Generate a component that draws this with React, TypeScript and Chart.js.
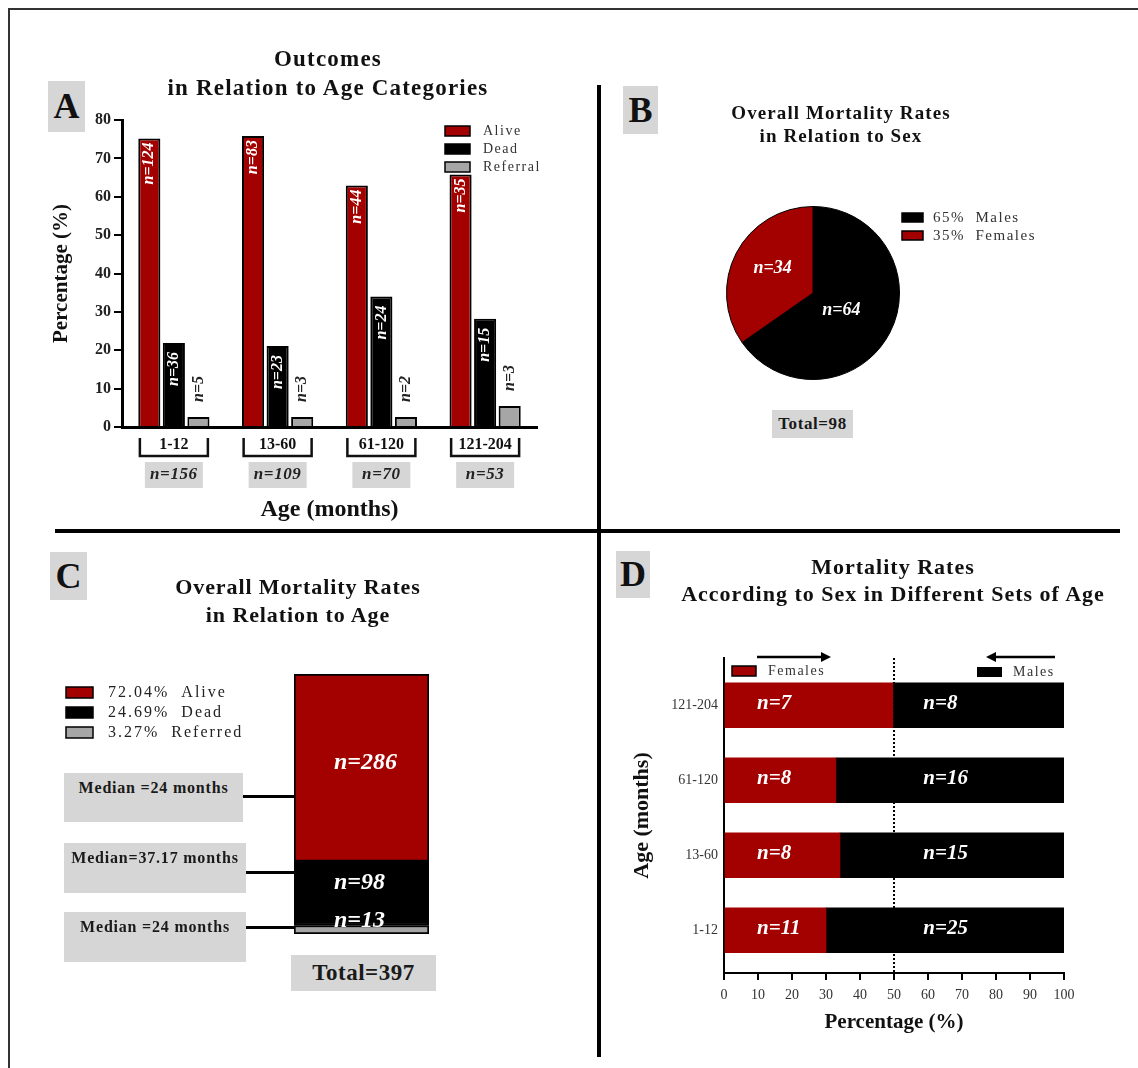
import React, { useEffect, useRef } from "react";
import { Chart, registerables } from "chart.js";

Chart.register(...registerables);

const SERIF = '"Liberation Serif", "Times New Roman", Times, serif';
const RED = "#a30000";
const BLACK = "#000000";
const GREY = "#a6a6a6";
const BOX_GREY = "#d6d6d6";

// ---------- Panel A: outcomes by age category ----------
const ageCategories = ["1-12", "13-60", "61-120", "121-204"];
const ageCategoryTotals = ["n=156", "n=109", "n=70", "n=53"];
const outcomeSeries = ["Alive", "Dead", "Referral"];
const alivePercent = [75.2, 75.8, 62.9, 65.8];
const deadPercent = [21.9, 21.1, 34.0, 28.2];
const referralPercent = [2.6, 2.6, 2.6, 5.5];
const aliveCounts = ["n=124", "n=83", "n=44", "n=35"];
const deadCounts = ["n=36", "n=23", "n=24", "n=15"];
const referralCounts = ["n=5", "n=3", "n=2", "n=3"];

// ---------- Panel B: mortality by sex ----------
const sexLabels = ["Males", "Females"];
const sexDeaths = [64, 34];
const sexShares = ["65%", "35%"];
const sexCountLabels = ["n=64", "n=34"];

// ---------- Panel C: overall outcomes ----------
const overallOutcomes = ["Alive", "Dead", "Referred"];
const overallCounts = [286, 98, 13];
const overallShares = ["72.04%", "24.69%", "3.27%"];
const overallCountLabels = ["n=286", "n=98", "n=13"];
const medianAges = ["Median =24 months", "Median=37.17 months", "Median =24 months"];
const overallTotal = "Total=397";

// ---------- Panel D: mortality by sex and age ----------
const ageSets = ["1-12", "13-60", "61-120", "121-204"];
const femalePercent = [30.0, 34.1, 32.9, 49.7];
const malePercent = [70.0, 65.9, 67.1, 50.3];
const femaleCounts = ["n=11", "n=8", "n=8", "n=7"];
const maleCounts = ["n=25", "n=15", "n=16", "n=8"];
const xTicksD = [0, 10, 20, 30, 40, 50, 60, 70, 80, 90, 100];

const font = (size: number, weight = "bold", style = "normal") =>
  `${style} ${weight} ${size}px ${SERIF}`;

const setSpacing = (ctx: any, px: number) => {
  ctx.letterSpacing = `${px}px`;
};

const plugA = {
  id: "annA",
  afterDatasetsDraw(chart: any) {
    const ctx = chart.ctx;
    const labelSets = [aliveCounts, deadCounts, referralCounts];
    chart.data.datasets.forEach((_ds: any, di: number) => {
      const meta = chart.getDatasetMeta(di);
      meta.data.forEach((bar: any, i: number) => {
        ctx.save();
        ctx.font = font(16, "bold", "italic");
        ctx.textBaseline = "middle";
        if (di < 2) {
          ctx.translate(bar.x, bar.y + (di === 0 ? 4 : 9));
          ctx.rotate(-Math.PI / 2);
          ctx.textAlign = "right";
          ctx.fillStyle = "#ffffff";
        } else {
          ctx.translate(bar.x, bar.y - 15);
          ctx.rotate(-Math.PI / 2);
          ctx.textAlign = "left";
          ctx.fillStyle = "#222";
        }
        ctx.fillText(labelSets[di][i], 0, 0);
        ctx.restore();
      });
    });
  },
  afterDraw(chart: any) {
    const ctx = chart.ctx;
    const xs = chart.scales.x;
    ctx.save();
    ageCategories.forEach((_c, i) => {
      const cx = xs.getPixelForValue(i);
      ctx.strokeStyle = "#111";
      ctx.lineWidth = 2.5;
      ctx.beginPath();
      ctx.moveTo(cx - 34, 438);
      ctx.lineTo(cx - 34, 456);
      ctx.lineTo(cx + 34, 456);
      ctx.lineTo(cx + 34, 438);
      ctx.stroke();
      ctx.fillStyle = BOX_GREY;
      ctx.fillRect(cx - 29, 462, 58, 26);
      ctx.fillStyle = "#222";
      ctx.font = font(17, "bold", "italic");
      setSpacing(ctx, 0.6);
      ctx.textAlign = "center";
      ctx.textBaseline = "middle";
      ctx.fillText(ageCategoryTotals[i], cx, 475);
      setSpacing(ctx, 0);
    });
    // legend
    const colors = [RED, BLACK, GREY];
    outcomeSeries.forEach((s, i) => {
      const y = 126 + i * 18;
      ctx.fillStyle = colors[i];
      ctx.fillRect(445, y, 25, 10);
      ctx.strokeStyle = "#000";
      ctx.lineWidth = 1.5;
      ctx.strokeRect(445, y, 25, 10);
      ctx.fillStyle = "#333";
      ctx.font = font(14, "normal");
      setSpacing(ctx, 1.5);
      ctx.textAlign = "left";
      ctx.textBaseline = "middle";
      ctx.fillText(s, 483, y + 5);
      setSpacing(ctx, 0);
    });
    ctx.restore();
  },
};

const plugB = {
  id: "annB",
  afterDatasetsDraw(chart: any) {
    const ctx = chart.ctx;
    const meta = chart.getDatasetMeta(0);
    ctx.save();
    meta.data.forEach((arc: any, i: number) => {
      const p = arc.tooltipPosition();
      ctx.fillStyle = "#fff";
      ctx.font = font(18, "bold", "italic");
      ctx.textAlign = "center";
      ctx.textBaseline = "middle";
      ctx.fillText(sexCountLabels[i], p.x - (i === 0 ? 10 : 2), p.y + (i === 0 ? -3 : -5));
    });
    const colors = [BLACK, RED];
    sexLabels.forEach((s, i) => {
      const y = 213 + i * 18;
      ctx.fillStyle = colors[i];
      ctx.fillRect(302, y, 21, 9);
      ctx.strokeStyle = "#000";
      ctx.lineWidth = 1.5;
      ctx.strokeRect(302, y, 21, 9);
      ctx.fillStyle = "#333";
      ctx.font = font(15, "normal");
      setSpacing(ctx, 1.5);
      ctx.textAlign = "left";
      ctx.textBaseline = "middle";
      ctx.fillText(`${sexShares[i]}  ${s}`, 333, y + 5);
      setSpacing(ctx, 0);
    });
    ctx.restore();
  },
};

const plugC = {
  id: "annC",
  afterDatasetsDraw(chart: any) {
    const ctx = chart.ctx;
    const n = overallOutcomes.length;
    const offsets = [-5, -11, -9];
    ctx.save();
    chart.data.datasets.forEach((_ds: any, di: number) => {
      const oi = n - 1 - di; // datasets are stacked bottom-up in reverse order
      const bar: any = chart.getDatasetMeta(di).data[0];
      const cy = (bar.y + bar.base) / 2 + offsets[oi];
      ctx.fillStyle = "#fff";
      ctx.font = font(24, "bold", "italic");
      ctx.textAlign = "center";
      ctx.textBaseline = "middle";
      ctx.fillText(overallCountLabels[oi], bar.x + (oi === 0 ? 4 : -2), cy);
    });
    const colors = [RED, BLACK, GREY];
    overallOutcomes.forEach((s, i) => {
      const y = 156 + i * 20;
      ctx.fillStyle = colors[i];
      ctx.fillRect(66, y, 27, 11);
      ctx.strokeStyle = "#000";
      ctx.lineWidth = 1.5;
      ctx.strokeRect(66, y, 27, 11);
      ctx.fillStyle = "#222";
      ctx.font = font(16, "normal");
      setSpacing(ctx, 2);
      ctx.textAlign = "left";
      ctx.textBaseline = "middle";
      ctx.fillText(`${overallShares[i]}  ${s}`, 108, y + 6);
      setSpacing(ctx, 0);
    });
    ctx.restore();
  },
};

const plugD = {
  id: "annD",
  afterDatasetsDraw(chart: any) {
    const ctx = chart.ctx;
    const xs = chart.scales.x;
    const area = chart.chartArea;
    ctx.save();
    // dotted 50% reference line
    const x50 = xs.getPixelForValue(50);
    ctx.strokeStyle = "#000";
    ctx.lineWidth = 2;
    ctx.setLineDash([2, 2]);
    ctx.beginPath();
    ctx.moveTo(x50, area.top);
    ctx.lineTo(x50, area.bottom);
    ctx.stroke();
    ctx.setLineDash([]);
    const sets = [femaleCounts, maleCounts];
    const starts = [9.7, 58.6];
    chart.data.datasets.forEach((_ds: any, di: number) => {
      chart.getDatasetMeta(di).data.forEach((bar: any, i: number) => {
        ctx.fillStyle = "#fff";
        ctx.font = font(21, "bold", "italic");
        ctx.textAlign = "left";
        ctx.textBaseline = "middle";
        ctx.fillText(sets[di][i], xs.getPixelForValue(starts[di]), bar.y - 2);
      });
    });
    ctx.restore();
  },
  afterDraw(chart: any) {
    const ctx = chart.ctx;
    ctx.save();
    const arrow = (x1: number, x2: number, y: number) => {
      const dir = Math.sign(x2 - x1);
      ctx.strokeStyle = "#000";
      ctx.fillStyle = "#000";
      ctx.lineWidth = 2.5;
      ctx.beginPath();
      ctx.moveTo(x1, y);
      ctx.lineTo(x2 - dir * 8, y);
      ctx.stroke();
      ctx.beginPath();
      ctx.moveTo(x2, y);
      ctx.lineTo(x2 - dir * 10, y - 5);
      ctx.lineTo(x2 - dir * 10, y + 5);
      ctx.closePath();
      ctx.fill();
    };
    // Females legend (left)
    ctx.fillStyle = RED;
    ctx.fillRect(132, 135, 24, 10);
    ctx.strokeStyle = "#000";
    ctx.lineWidth = 1.5;
    ctx.strokeRect(132, 135, 24, 10);
    ctx.fillStyle = "#333";
    ctx.font = font(14, "normal");
    setSpacing(ctx, 1.5);
    ctx.textAlign = "left";
    ctx.textBaseline = "middle";
    ctx.fillText(chart.data.datasets[0].label, 168, 140);
    // Males legend (right)
    ctx.fillStyle = BLACK;
    ctx.fillRect(377, 136, 25, 10);
    ctx.fillStyle = "#333";
    ctx.fillText(chart.data.datasets[1].label, 413, 141);
    setSpacing(ctx, 0);
    arrow(157, 231, 126);
    arrow(455, 386, 126);
    ctx.restore();
  },
};

function makeA(canvas: HTMLCanvasElement) {
  const colors = [RED, BLACK, GREY];
  const values = [alivePercent, deadPercent, referralPercent];
  return new Chart(canvas, {
    type: "bar",
    data: {
      labels: ageCategories,
      datasets: outcomeSeries.map((s, i) => ({
        label: s,
        data: values[i],
        backgroundColor: colors[i],
        borderColor: "#000",
        borderWidth: 2,
        categoryPercentage: 0.71,
        barPercentage: 0.9,
      })),
    },
    options: {
      animation: false,
      responsive: true,
      maintainAspectRatio: false,
      layout: { padding: { top: 120, right: 61, bottom: 3, left: 0 } },
      plugins: { legend: { display: false }, title: { display: false }, tooltip: { enabled: false } },
      scales: {
        x: {
          afterFit: (s: any) => {
            s.height = 100;
          },
          grid: { display: false, drawTicks: false },
          border: { display: true, color: "#000", width: 3 },
          ticks: { font: { family: SERIF, size: 16, weight: "bold" }, color: "#111", padding: 8 },
          title: {
            display: true,
            text: "Age (months)",
            font: { family: SERIF, size: 24, weight: "bold" },
            color: "#111",
            padding: { top: 0, bottom: 2.6 },
          },
        },
        y: {
          min: 0,
          max: 80,
          afterFit: (s: any) => {
            s.width = 122;
          },
          ticks: { stepSize: 10, font: { family: SERIF, size: 16, weight: "bold" }, color: "#222", padding: 3 },
          grid: { drawOnChartArea: false, drawTicks: true, tickLength: 8, color: "#000", lineWidth: 2 },
          border: { display: true, color: "#000", width: 3 },
          title: {
            display: true,
            text: "Percentage (%)",
            font: { family: SERIF, size: 21, weight: "bold" },
            color: "#111",
            padding: { top: 49.4, bottom: 0 },
          },
        },
      },
    } as any,
    plugins: [plugA],
  });
}

function makeB(canvas: HTMLCanvasElement) {
  return new Chart(canvas, {
    type: "pie",
    data: {
      labels: sexLabels,
      datasets: [
        {
          data: sexDeaths,
          backgroundColor: [BLACK, RED],
          borderColor: "#000",
          borderWidth: 1,
        },
      ],
    },
    options: {
      animation: false,
      responsive: true,
      maintainAspectRatio: false,
      layout: { padding: { left: 126, right: 238, top: 206, bottom: 150 } },
      plugins: { legend: { display: false }, title: { display: false }, tooltip: { enabled: false } },
    } as any,
    plugins: [plugB],
  });
}

function makeC(canvas: HTMLCanvasElement) {
  const colors = [RED, BLACK, GREY];
  const total = overallCounts.reduce((a, b) => a + b, 0);
  const datasets = overallOutcomes
    .map((o, i) => ({
      label: o,
      data: [overallCounts[i]],
      backgroundColor: colors[i],
      borderColor: "#000",
      borderWidth: 2,
      borderSkipped: false,
      barPercentage: 1,
      categoryPercentage: 1,
    }))
    .reverse();
  return new Chart(canvas, {
    type: "bar",
    data: { labels: ["All patients"], datasets },
    options: {
      animation: false,
      responsive: true,
      maintainAspectRatio: false,
      layout: { padding: { left: 294, right: 169, top: 143, bottom: 134 } },
      plugins: { legend: { display: false }, title: { display: false }, tooltip: { enabled: false } },
      scales: {
        x: { display: false, stacked: true },
        y: { display: false, stacked: true, min: 0, max: total },
      },
    } as any,
    plugins: [plugC],
  });
}

function makeD(canvas: HTMLCanvasElement) {
  return new Chart(canvas, {
    type: "bar",
    data: {
      datasets: [
        {
          label: "Females",
          data: femalePercent.map((v, i) => ({ x: v, y: i + 1 })),
          backgroundColor: RED,
          barThickness: 45,
        },
        {
          label: "Males",
          data: malePercent.map((v, i) => ({ x: v, y: i + 1 })),
          backgroundColor: BLACK,
          barThickness: 45,
        },
      ],
    },
    options: {
      indexAxis: "y",
      animation: false,
      responsive: true,
      maintainAspectRatio: false,
      layout: { padding: { left: 0, right: 74, top: 127, bottom: 28 } },
      plugins: { legend: { display: false }, title: { display: false }, tooltip: { enabled: false } },
      scales: {
        x: {
          type: "linear",
          stacked: true,
          min: 0,
          max: 100,
          afterFit: (s: any) => {
            s.height = 67;
          },
          afterBuildTicks: (s: any) => {
            s.ticks = xTicksD.map((v) => ({ value: v }));
          },
          ticks: { font: { family: SERIF, size: 14 }, color: "#333", padding: 7 },
          grid: { drawOnChartArea: false, drawTicks: true, tickLength: 7, color: "#000", lineWidth: 2 },
          border: { display: true, color: "#000", width: 2 },
          title: {
            display: true,
            text: "Percentage (%)",
            font: { family: SERIF, size: 21, weight: "bold" },
            color: "#111",
            padding: { top: 0, bottom: 4.4 },
          },
        },
        y: {
          type: "linear",
          stacked: true,
          offset: false,
          min: 0.43,
          max: 4.63,
          afterFit: (s: any) => {
            s.width = 124;
          },
          afterBuildTicks: (s: any) => {
            s.ticks = ageSets.map((_a, i) => ({ value: i + 1 }));
          },
          ticks: {
            font: { family: SERIF, size: 14 },
            color: "#333",
            padding: 6,
            callback: (v: any) => ageSets[Number(v) - 1] ?? "",
          },
          grid: { drawOnChartArea: false, drawTicks: false, offset: false },
          border: { display: true, color: "#000", width: 2 },
          title: {
            display: true,
            text: "Age (months)",
            font: { family: SERIF, size: 22, weight: "bold" },
            color: "#111",
            padding: { top: 28.8, bottom: 0 },
          },
        },
      },
    } as any,
    plugins: [plugD],
  });
}

const abs = (left: number, top: number, width: number, height: number): React.CSSProperties => ({
  position: "absolute",
  left,
  top,
  width,
  height,
});

function PanelTitle(props: { cx: number; cy: number; lines: string[]; size: number; lh: number; ls: number }) {
  const { cx, cy, lines, size, lh, ls } = props;
  return (
    <div
      style={{
        position: "absolute",
        left: cx - 300,
        width: 600,
        top: cy - lh / 2,
        textAlign: "center",
        fontWeight: "bold",
        fontSize: size,
        lineHeight: `${lh}px`,
        letterSpacing: ls,
        color: "#111",
        whiteSpace: "nowrap",
      }}
    >
      {lines.map((l) => (
        <div key={l}>{l}</div>
      ))}
    </div>
  );
}

function Letter(props: { x: number; y: number; w: number; h: number; t: string }) {
  const { x, y, w, h, t } = props;
  return (
    <div
      style={{
        ...abs(x, y, w, h),
        background: BOX_GREY,
        fontWeight: "bold",
        fontSize: 36,
        lineHeight: `${h}px`,
        textAlign: "center",
        color: "#111",
      }}
    >
      {t}
    </div>
  );
}

function GreyBox(props: {
  x: number;
  y: number;
  w: number;
  h: number;
  text: string;
  size: number;
  ls: number;
  top?: number;
}) {
  const { x, y, w, h, text, size, ls, top } = props;
  return (
    <div
      style={{
        ...abs(x, y, w, top === undefined ? h : h - top),
        paddingTop: top ?? 0,
        background: BOX_GREY,
        fontWeight: "bold",
        fontSize: size,
        letterSpacing: ls,
        lineHeight: top === undefined ? `${h}px` : `${size + 4}px`,
        textAlign: "center",
        color: "#1a1a1a",
        whiteSpace: "nowrap",
      }}
    >
      {text}
    </div>
  );
}

function Line(props: { x: number; y: number; w: number; h: number; c?: string }) {
  return <div style={{ ...abs(props.x, props.y, props.w, props.h), background: props.c ?? "#000" }} />;
}

export default function App() {
  const aRef = useRef<HTMLCanvasElement>(null);
  const bRef = useRef<HTMLCanvasElement>(null);
  const cRef = useRef<HTMLCanvasElement>(null);
  const dRef = useRef<HTMLCanvasElement>(null);

  useEffect(() => {
    const charts = [
      makeA(aRef.current!),
      makeB(bRef.current!),
      makeC(cRef.current!),
      makeD(dRef.current!),
    ];
    return () => charts.forEach((c) => c.destroy());
  }, []);

  return (
    <div
      style={{
        position: "absolute",
        left: 0,
        top: 0,
        width: 1138,
        height: 1068,
        background: "#fff",
        fontFamily: SERIF,
        overflow: "hidden",
      }}
    >
      {/* frame */}
      <Line x={8} y={8} w={1130} h={2} c="#333" />
      <Line x={8} y={8} w={2} h={1060} c="#333" />
      {/* dividers */}
      <Line x={55} y={529} w={1065} h={4} />
      <Line x={597} y={85} w={4} h={972} />

      {/* Panel A */}
      <div style={abs(0, 0, 598, 530)}>
        <canvas ref={aRef} />
      </div>
      <PanelTitle cx={328} cy={58} lines={["Outcomes", "in Relation to Age Categories"]} size={23} lh={29} ls={1.2} />
      <Letter x={48} y={81} w={37} h={51} t="A" />

      {/* Panel B */}
      <div style={abs(600, 0, 538, 530)}>
        <canvas ref={bRef} />
      </div>
      <PanelTitle cx={841} cy={112} lines={["Overall Mortality Rates", "in Relation to Sex"]} size={19} lh={23} ls={1.1} />
      <Letter x={623} y={86} w={35} h={48} t="B" />
      <GreyBox x={772} y={410} w={81} h={28} text="Total=98" size={17} ls={0.6} />

      {/* Panel C */}
      <div style={abs(0, 531, 598, 537)}>
        <canvas ref={cRef} />
      </div>
      <PanelTitle cx={298} cy={587} lines={["Overall Mortality Rates", "in Relation to Age"]} size={22} lh={28} ls={0.9} />
      <Letter x={50} y={552} w={37} h={48} t="C" />
      <GreyBox x={64} y={773} w={179} h={49} text={medianAges[0]} size={16} ls={0.8} top={5} />
      <GreyBox x={64} y={843} w={182} h={50} text={medianAges[1]} size={16} ls={0.8} top={5} />
      <GreyBox x={64} y={912} w={182} h={50} text={medianAges[2]} size={16} ls={0.8} top={5} />
      <Line x={243} y={795} w={52} h={3} />
      <Line x={246} y={871} w={49} h={3} />
      <Line x={246} y={926} w={49} h={3} />
      <GreyBox x={291} y={955} w={145} h={36} text={overallTotal} size={23} ls={0.5} />

      {/* Panel D */}
      <div style={abs(600, 531, 538, 537)}>
        <canvas ref={dRef} />
      </div>
      <PanelTitle
        cx={893}
        cy={566}
        lines={["Mortality Rates", "According to Sex in Different Sets of Age"]}
        size={22}
        lh={27}
        ls={1}
      />
      <Letter x={616} y={551} w={34} h={47} t="D" />
    </div>
  );
}
